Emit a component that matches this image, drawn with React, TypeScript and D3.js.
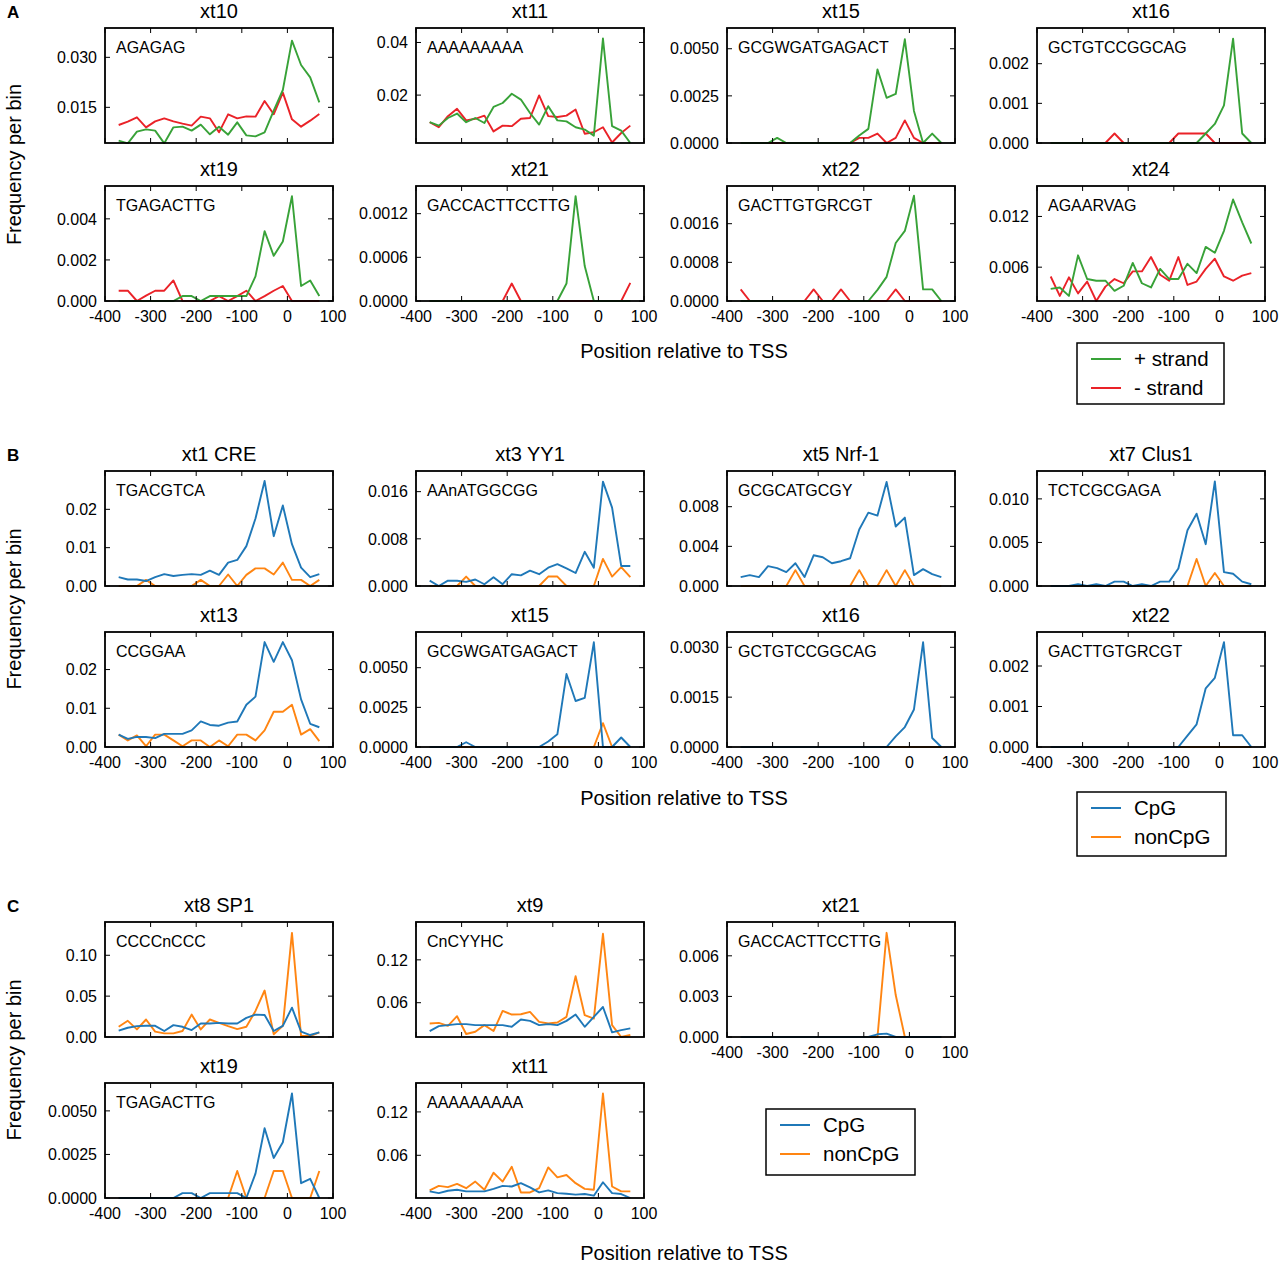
import * as d3 from 'd3';

// bin centres (relative to TSS) shared by every panel
const positions = [-370, -350, -330, -310, -290, -270, -250, -230, -210, -190, -170, -150, -130, -110, -90, -70, -50, -30, -10, 10, 30, 50, 70];
const xTicks = [-400, -300, -200, -100, 0, 100];

// ---- A: + strand / - strand ----
const aTitles = ['xt10', 'xt11', 'xt15', 'xt16', 'xt19', 'xt21', 'xt22', 'xt24'];
const aMotifs = ['AGAGAG', 'AAAAAAAAA', 'GCGWGATGAGACT', 'GCTGTCCGGCAG', 'TGAGACTTG', 'GACCACTTCCTTG', 'GACTTGTGRCGT', 'AGAARVAG'];
const aLims = [[0.0043, 0.0388], [0.0018, 0.0455], [0, 0.0061], [0, 0.0029], [0, 0.0056], [0, 0.00158], [0, 0.00238], [0.002, 0.0156]];
const aTicks = [[0.015, 0.03], [0.02, 0.04], [0, 0.0025, 0.005], [0, 0.001, 0.002], [0, 0.002, 0.004], [0, 0.0006, 0.0012], [0, 0.0008, 0.0016], [0.006, 0.012]];

const a10Plus = [0.005, 0.0042, 0.0077, 0.0084, 0.008, 0.0042, 0.009, 0.0092, 0.008, 0.0098, 0.0069, 0.0092, 0.0068, 0.0105, 0.0066, 0.0063, 0.0075, 0.014, 0.0202, 0.035, 0.0277, 0.024, 0.0165];
const a10Minus = [0.0097, 0.0107, 0.012, 0.009, 0.0108, 0.0117, 0.0108, 0.0101, 0.0095, 0.0122, 0.0117, 0.0075, 0.0129, 0.0117, 0.0123, 0.0122, 0.0169, 0.0129, 0.0194, 0.0114, 0.0092, 0.011, 0.013];
const a11Plus = [0.0097, 0.0084, 0.0113, 0.013, 0.0097, 0.0113, 0.0094, 0.0155, 0.017, 0.0205, 0.0183, 0.0132, 0.0088, 0.0158, 0.0104, 0.01, 0.0078, 0.0069, 0.0046, 0.0415, 0.0082, 0.0065, 0.0018];
const a11Minus = [0.0097, 0.0078, 0.012, 0.0148, 0.0104, 0.011, 0.0122, 0.0062, 0.0084, 0.0082, 0.011, 0.0113, 0.0199, 0.012, 0.0117, 0.0122, 0.0145, 0.0053, 0.0059, 0.0078, 0.002, 0.0056, 0.0084];
const a15Plus = [0, 0, 0, 0, 0.00027, 0, 0, 0, 0, 0, 0, 0, 0, 0.0004, 0.00075, 0.0039, 0.0024, 0.0026, 0.0055, 0.0017, 0, 0.0005, 0];
const a15Minus = [0, 0, 0, 0, 0, 0, 0, 0, 0, 0, 0, 0, 0, 0.00027, 0.00027, 0.0005, 0, 0.00027, 0.0012, 0.00027, 0, 0, 0];
const a16Plus = [0, 0, 0, 0, 0, 0, 0, 0, 0, 0, 0, 0, 0, 0, 0, 0, 0, 0.00024, 0.00048, 0.00095, 0.00263, 0.00024, 0];
const a16Minus = [0, 0, 0, 0, 0, 0, 0, 0.00024, 0, 0, 0, 0, 0, 0, 0.00024, 0.00024, 0.00024, 0.00024, 0, 0, 0, 0, 0];
const a19Plus = [0, 0, 0, 0, 0, 0, 0, 0.00024, 0.00024, 0, 0.00024, 0.00024, 0.00024, 0.00024, 0.00024, 0.0012, 0.0034, 0.0022, 0.0029, 0.0051, 0.00073, 0.001, 0.00024];
const a19Minus = [0.0005, 0.0005, 0, 0.00026, 0.0005, 0.0005, 0.001, 0, 0, 0, 0, 0.00024, 0, 0.00024, 0.0005, 0, 0.00024, 0.0005, 0.00073, 0, 0, 0, 0];
const a21Plus = [0, 0, 0, 0, 0, 0, 0, 0, 0, 0, 0, 0, 0, 0, 0, 0.00024, 0.00144, 0.00048, 0, 0, 0, 0, 0];
const a21Minus = [0, 0, 0, 0, 0, 0, 0, 0, 0, 0.00024, 0, 0, 0, 0, 0, 0, 0, 0, 0, 0, 0, 0, 0.00025];
const a22Plus = [0, 0, 0, 0, 0, 0, 0, 0, 0, 0, 0, 0, 0, 0, 0, 0.00023, 0.0005, 0.0012, 0.00145, 0.00218, 0.00024, 0.00024, 0];
const a22Minus = [0.00024, 0, 0, 0, 0, 0, 0, 0, 0.00024, 0, 0, 0.00024, 0, 0, 0, 0, 0, 0.00024, 0, 0, 0, 0, 0];
const a24Plus = [0.00343, 0.0036, 0.0026, 0.0074, 0.0046, 0.0044, 0.0044, 0.0032, 0.0038, 0.0065, 0.0041, 0.0036, 0.0058, 0.0046, 0.0046, 0.0064, 0.0053, 0.0084, 0.0077, 0.0103, 0.014, 0.0113, 0.0088];
const a24Minus = [0.0049, 0.0026, 0.0048, 0.0029, 0.0043, 0.002, 0.0037, 0.0046, 0.0041, 0.0055, 0.0055, 0.0072, 0.0051, 0.0044, 0.0072, 0.0039, 0.0043, 0.0058, 0.007, 0.0049, 0.0044, 0.005, 0.0053];

// ---- B: CpG / nonCpG ----
const bTitles = ['xt1 CRE', 'xt3 YY1', 'xt5 Nrf-1', 'xt7 Clus1', 'xt13', 'xt15', 'xt16', 'xt22'];
const bMotifs = ['TGACGTCA', 'AAnATGGCGG', 'GCGCATGCGY', 'TCTCGCGAGA', 'CCGGAA', 'GCGWGATGAGACT', 'GCTGTCCGGCAG', 'GACTTGTGRCGT'];
const bLims = [[0, 0.03], [0, 0.0195], [0, 0.0116], [0, 0.0132], [0, 0.0297], [0, 0.00725], [0, 0.00346], [0, 0.00284]];
const bTicks = [[0, 0.01, 0.02], [0, 0.008, 0.016], [0, 0.004, 0.008], [0, 0.005, 0.01], [0, 0.01, 0.02], [0, 0.0025, 0.005], [0, 0.0015, 0.003], [0, 0.001, 0.002]];

const b1Cpg = [0.0023, 0.0017, 0.0017, 0.0013, 0.0023, 0.0031, 0.0026, 0.0029, 0.0031, 0.0029, 0.004, 0.0029, 0.0061, 0.0068, 0.0104, 0.0176, 0.0274, 0.013, 0.021, 0.0109, 0.0048, 0.0023, 0.0031];
const b1Non = [0, 0, 0, 0.0016, 0, 0, 0, 0, 0, 0.0016, 0, 0, 0.003, 0, 0.0029, 0.0046, 0.0046, 0.003, 0.0061, 0.0016, 0.0016, 0, 0.0016];
const b3Cpg = [0.0009, 0, 0.0009, 0.0009, 0.0007, 0.0011, 0.0003, 0.0015, 0.0003, 0.002, 0.0018, 0.0026, 0.002, 0.0031, 0.0037, 0.003, 0.0022, 0.0058, 0.0031, 0.0177, 0.0133, 0.0034, 0.0034];
const b3Non = [0, 0, 0, 0, 0.0016, 0, 0, 0, 0, 0, 0, 0, 0, 0.0016, 0.0016, 0, 0, 0, 0, 0.0046, 0.0016, 0.0032, 0.0015];
const b5Cpg = [0.0009, 0.0011, 0.0009, 0.002, 0.0018, 0.0014, 0.0023, 0.0009, 0.0031, 0.0029, 0.0023, 0.0025, 0.0028, 0.0057, 0.0074, 0.0071, 0.0105, 0.006, 0.0069, 0.0011, 0.0017, 0.0012, 0.0009];
const b5Non = [0, 0, 0, 0, 0, 0, 0.0016, 0, 0, 0, 0, 0, 0, 0.0016, 0, 0, 0.0016, 0, 0.0016, 0, 0, 0, 0];
const b7Cpg = [0, 0, 0, 0.0002, 0, 0.0002, 0, 0.0005, 0.0005, 0, 0.0002, 0, 0.0005, 0.0005, 0.002, 0.0064, 0.0083, 0.0048, 0.012, 0.0016, 0.0014, 0.0005, 0.0002];
const b7Non = [0, 0, 0, 0, 0, 0, 0, 0, 0, 0, 0, 0, 0, 0, 0, 0, 0.0031, 0, 0.0015, 0, 0, 0, 0];
const b13Cpg = [0.0032, 0.0021, 0.0026, 0.0026, 0.0023, 0.0034, 0.0034, 0.0034, 0.0043, 0.0066, 0.0057, 0.0055, 0.0063, 0.0066, 0.0109, 0.013, 0.0271, 0.022, 0.0271, 0.0224, 0.0123, 0.006, 0.0051];
const b13Non = [0.0032, 0.0017, 0.003, 0.0002, 0.0032, 0.0032, 0.0017, 0.0002, 0.0017, 0.0017, 0, 0.0017, 0.0002, 0.0032, 0.0032, 0.0017, 0.0043, 0.0091, 0.0091, 0.0109, 0.0032, 0.0046, 0.0015];
const b15Cpg = [0, 0, 0, 0, 0.0003, 0, 0, 0, 0, 0, 0, 0, 0, 0.00035, 0.0008, 0.0046, 0.0029, 0.0031, 0.0066, 0, 0, 0.0006, 0];
const b15Non = [0, 0, 0, 0, 0, 0, 0, 0, 0, 0, 0, 0, 0, 0, 0, 0, 0, 0, 0, 0.0015, 0, 0, 0];
const b16Cpg = [0, 0, 0, 0, 0, 0, 0, 0, 0, 0, 0, 0, 0, 0, 0, 0, 0, 0.00032, 0.0006, 0.00113, 0.00315, 0.00027, 0];
const b16Non = [0, 0, 0, 0, 0, 0, 0, 0, 0, 0, 0, 0, 0, 0, 0, 0, 0, 0, 0, 0, 0, 0, 0];
const b22Cpg = [0, 0, 0, 0, 0, 0, 0, 0, 0, 0, 0, 0, 0, 0, 0, 0.00028, 0.00056, 0.00145, 0.00171, 0.00259, 0.00029, 0.00029, 0];
const b22Non = [0, 0, 0, 0, 0, 0, 0, 0, 0, 0, 0, 0, 0, 0, 0, 0, 0, 0, 0, 0, 0, 0, 0];

// ---- C: CpG / nonCpG ----
const cTitles = ['xt8 SP1', 'xt9', 'xt21', 'xt19', 'xt11'];
const cMotifs = ['CCCCnCCC', 'CnCYYHC', 'GACCACTTCCTTG', 'TGAGACTTG', 'AAAAAAAAA'];
const cLims = [[0, 0.1407], [0.012, 0.173], [0, 0.0085], [0, 0.0066], [0.0009, 0.16]];
const cTicks = [[0, 0.05, 0.1], [0.06, 0.12], [0, 0.003, 0.006], [0, 0.0025, 0.005], [0.06, 0.12]];

const c8Cpg = [0.0077, 0.0113, 0.0133, 0.0137, 0.0137, 0.0073, 0.0145, 0.0125, 0.0085, 0.0165, 0.0165, 0.0173, 0.0165, 0.0165, 0.0234, 0.0274, 0.027, 0.0073, 0.0137, 0.0359, 0.0065, 0.0024, 0.0056];
const c8Non = [0.0125, 0.0198, 0.0093, 0.0214, 0.0065, 0.0044, 0.0044, 0.0073, 0.0274, 0.0093, 0.0214, 0.0173, 0.0133, 0.0097, 0.0125, 0.0319, 0.0569, 0.0032, 0.0137, 0.1274, 0.0012, 0.0012, 0.0056];
const c9Cpg = [0.0203, 0.0272, 0.0286, 0.03, 0.03, 0.0286, 0.0286, 0.0286, 0.0286, 0.0263, 0.0365, 0.0346, 0.0286, 0.03, 0.0286, 0.0346, 0.0434, 0.0263, 0.0402, 0.054, 0.0185, 0.0217, 0.024];
const c9Non = [0.0309, 0.0318, 0.0277, 0.0411, 0.0162, 0.0194, 0.0286, 0.0203, 0.0485, 0.0434, 0.0438, 0.0471, 0.0332, 0.0309, 0.0323, 0.0402, 0.097, 0.0425, 0.0378, 0.1565, 0.0286, 0.012, 0.0148];
const c21Cpg = [0, 0, 0, 0, 0, 0, 0, 0, 0, 0, 0, 0, 0, 0, 0, 0.0002, 0.00025, 0, 0, 0, 0, 0, 0];
const c21Non = [0, 0, 0, 0, 0, 0, 0, 0, 0, 0, 0, 0, 0, 0, 0, 0, 0.0077, 0.0031, 0, 0, 0, 0, 0];
const c19Cpg = [0, 0, 0, 0, 0, 0, 0, 0.00028, 0.00028, 0, 0.00028, 0.00028, 0.00028, 0.00028, 0, 0.0014, 0.004, 0.0023, 0.0032, 0.006, 0.00085, 0.0011, 0];
const c19Non = [0, 0, 0, 0, 0, 0, 0, 0, 0, 0, 0, 0, 0, 0.00155, 0, 0, 0, 0.00155, 0.00155, 0, 0, 0, 0.00155];
const c11Cpg = [0.01, 0.0077, 0.0109, 0.0123, 0.01, 0.01, 0.01, 0.0136, 0.0177, 0.0168, 0.0214, 0.0155, 0.0086, 0.0114, 0.0077, 0.0068, 0.0055, 0.0064, 0.0041, 0.0227, 0.0077, 0.0064, 0.0009];
const c11Non = [0.0114, 0.0177, 0.0159, 0.0205, 0.0145, 0.0236, 0.0123, 0.0359, 0.0236, 0.0441, 0.0086, 0.0086, 0.0145, 0.0432, 0.0295, 0.0327, 0.0214, 0.0136, 0.0123, 0.1455, 0.0168, 0.01, 0.01];

const strandLabels = ['+ strand', '- strand'];
const cpgLabels = ['CpG', 'nonCpG'];
const strandColors = ['#38a238', '#ea2228'];
const cpgColors = ['#1f78b8', '#ff8512'];

const FONT = '"Liberation Sans", Arial, Helvetica, sans-serif';
const colX = [105, 416, 727, 1037];
const PW = 228;
const PH = 115;

type Panel = {
  title: string; motif: string; lim: number[]; ticks: number[];
  series: number[][]; row: number; col: number;
};

function buildPanels(titles: string[], motifs: string[], lims: number[][], ticks: number[][], series: number[][][], cells: number[][]): Panel[] {
  return titles.map((t, i) => ({
    title: t, motif: motifs[i], lim: lims[i], ticks: ticks[i], series: series[i],
    row: cells[i][0], col: cells[i][1],
  }));
}

const grid8 = [[0, 0], [0, 1], [0, 2], [0, 3], [1, 0], [1, 1], [1, 2], [1, 3]];
const grid5 = [[0, 0], [0, 1], [0, 2], [1, 0], [1, 1]];

const sections = [
  {
    letter: 'A', tops: [28, 186], labels: strandLabels, colors: strandColors,
    legend: { x: 1077, y: 343, w: 147, h: 61 }, xlabelY: 358,
    panels: buildPanels(aTitles, aMotifs, aLims, aTicks, [
      [a10Plus, a10Minus], [a11Plus, a11Minus], [a15Plus, a15Minus], [a16Plus, a16Minus],
      [a19Plus, a19Minus], [a21Plus, a21Minus], [a22Plus, a22Minus], [a24Plus, a24Minus],
    ], grid8),
  },
  {
    letter: 'B', tops: [471, 632], labels: cpgLabels, colors: cpgColors,
    legend: { x: 1077, y: 792, w: 149, h: 64 }, xlabelY: 805,
    panels: buildPanels(bTitles, bMotifs, bLims, bTicks, [
      [b1Cpg, b1Non], [b3Cpg, b3Non], [b5Cpg, b5Non], [b7Cpg, b7Non],
      [b13Cpg, b13Non], [b15Cpg, b15Non], [b16Cpg, b16Non], [b22Cpg, b22Non],
    ], grid8),
  },
  {
    letter: 'C', tops: [922, 1083], labels: cpgLabels, colors: cpgColors,
    legend: { x: 766, y: 1109, w: 149, h: 66 }, xlabelY: 1260,
    panels: buildPanels(cTitles, cMotifs, cLims, cTicks, [
      [c8Cpg, c8Non], [c9Cpg, c9Non], [c21Cpg, c21Non], [c19Cpg, c19Non], [c11Cpg, c11Non],
    ], grid5),
  },
];

// number of decimals matplotlib-style: enough for every tick on the axis
function decimalsFor(ticks: number[]) {
  let d = 0;
  ticks.forEach(t => {
    let k = 0;
    while (k < 6 && Math.abs(Math.round(t * 10 ** k) - t * 10 ** k) > 1e-7) k++;
    d = Math.max(d, k);
  });
  return d;
}

function PanelView({ p, top, colors, showX, id }: { p: Panel; top: number; colors: string[]; showX: boolean; id: string }) {
  const left = colX[p.col];
  const x = d3.scaleLinear().domain([-400, 100]).range([0, PW]);
  const y = d3.scaleLinear().domain(p.lim).range([PH, 0]);
  const line = d3.line<number>().x((_, i) => x(positions[i])).y(v => y(v));
  const fmt = d3.format('.' + decimalsFor(p.ticks) + 'f');
  const yt = p.ticks.filter(t => t >= p.lim[0] - 1e-12 && t <= p.lim[1]);
  return (
    <g transform={`translate(${left},${top})`}>
      <defs>
        <clipPath id={id}><rect x={-1} y={-1} width={PW + 2} height={PH + 2} /></clipPath>
      </defs>
      <text x={PW / 2} y={-10} textAnchor="middle" fontSize={20}>{p.title}</text>
      <g clipPath={`url(#${id})`}>
        {p.series.map((s, i) => (
          <path key={i} d={line(s) || ''} fill="none" stroke={colors[i]} strokeWidth={1.9} strokeLinejoin="round" />
        )).reverse()}
      </g>
      <text x={11} y={25} fontSize={16}>{p.motif}</text>
      {xTicks.map(t => (
        <g key={'x' + t}>
          <line x1={x(t)} x2={x(t)} y1={0} y2={5} stroke="#000" strokeWidth={1} />
          <line x1={x(t)} x2={x(t)} y1={PH} y2={PH - 5} stroke="#000" strokeWidth={1} />
          {showX && <text x={x(t)} y={PH + 21} textAnchor="middle" fontSize={16}>{t}</text>}
        </g>
      ))}
      {yt.map(t => (
        <g key={'y' + t}>
          <line x1={0} x2={5} y1={y(t)} y2={y(t)} stroke="#000" strokeWidth={1} />
          <line x1={PW} x2={PW - 5} y1={y(t)} y2={y(t)} stroke="#000" strokeWidth={1} />
          <text x={-8} y={y(t)} dy="0.36em" textAnchor="end" fontSize={16}>{fmt(t)}</text>
        </g>
      ))}
      <rect x={0} y={0} width={PW} height={PH} fill="none" stroke="#000" strokeWidth={1.8} />
    </g>
  );
}

export default function App() {
  return (
    <svg width={1280} height={1263} style={{ position: 'absolute', left: 0, top: 0, background: '#fff' }} fontFamily={FONT}>
      <rect width={1280} height={1263} fill="#fff" />
      {sections.map((sec, si) => {
        const lg = sec.legend;
        const midY = (sec.tops[0] + sec.tops[1] + PH) / 2;
        return (
          <g key={sec.letter}>
            <text x={7} y={sec.tops[0] - 10} fontSize={17} fontWeight="bold">{sec.letter}</text>
            <text transform={`translate(21,${midY}) rotate(-90)`} textAnchor="middle" fontSize={20}>Frequency per bin</text>
            {sec.panels.map((p, pi) => {
              const below = sec.panels.some(q => q.col === p.col && q.row === p.row + 1);
              return (
                <PanelView key={pi} p={p} top={sec.tops[p.row]} colors={sec.colors} showX={!below} id={`clip-${si}-${pi}`} />
              );
            })}
            <text x={684} y={sec.xlabelY} textAnchor="middle" fontSize={20}>Position relative to TSS</text>
            <rect x={lg.x} y={lg.y} width={lg.w} height={lg.h} fill="#fff" stroke="#000" strokeWidth={1.5} />
            {sec.labels.map((lab, i) => (
              <g key={lab}>
                <line x1={lg.x + 14} x2={lg.x + 44} y1={lg.y + 16 + i * 29} y2={lg.y + 16 + i * 29} stroke={sec.colors[i]} strokeWidth={2} />
                <text x={lg.x + 57} y={lg.y + 16 + i * 29} dy="0.36em" fontSize={20.5}>{lab}</text>
              </g>
            ))}
          </g>
        );
      })}
    </svg>
  );
}
